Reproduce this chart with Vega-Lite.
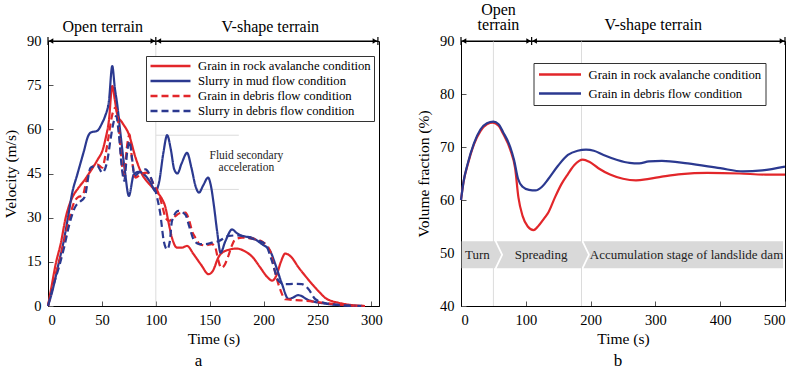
{
  "$schema": "https://vega.github.io/schema/vega-lite/v6.json",
  "background": "white",
  "padding": {"left": 3, "top": 0, "right": 0, "bottom": 0},
  "spacing": 82,
  "bounds": "flush",
  "config": {
    "font": "Liberation Serif",
    "view": {"stroke": "black", "strokeWidth": 1},
    "axis": {
      "grid": false,
      "domainColor": "black",
      "tickColor": "#555",
      "labelColor": "black",
      "titleColor": "black",
      "labelFont": "Liberation Serif",
      "titleFont": "Liberation Serif",
      "labelFontSize": 14.5,
      "titleFontSize": 15.5,
      "titleFontWeight": "normal",
      "tickSize": -5,
      "labelPadding": 12
    },
    "axisY": {"titlePadding": 8},
    "axisX": {"titlePadding": 5},
    "title": {"font": "Liberation Serif", "fontSize": 17, "fontWeight": "normal", "color": "black"},
    "text": {"font": "Liberation Serif"},
    "legend": {"labelFont": "Liberation Serif"}
  },
  "resolve": {
    "scale": {"color": "independent", "strokeDash": "independent"},
    "legend": {"color": "independent", "strokeDash": "independent"}
  },
  "datasets": {
    "velocity": [
      {"s": "Grain in rock avalanche condition", "t": 0, "v": 0},
      {"s": "Grain in rock avalanche condition", "t": 3, "v": 6},
      {"s": "Grain in rock avalanche condition", "t": 7, "v": 14},
      {"s": "Grain in rock avalanche condition", "t": 12, "v": 21.5},
      {"s": "Grain in rock avalanche condition", "t": 16.4, "v": 30},
      {"s": "Grain in rock avalanche condition", "t": 22.5, "v": 36.8},
      {"s": "Grain in rock avalanche condition", "t": 28, "v": 40},
      {"s": "Grain in rock avalanche condition", "t": 33.3, "v": 42.5},
      {"s": "Grain in rock avalanche condition", "t": 38, "v": 45},
      {"s": "Grain in rock avalanche condition", "t": 42.6, "v": 47.6},
      {"s": "Grain in rock avalanche condition", "t": 46.5, "v": 50},
      {"s": "Grain in rock avalanche condition", "t": 50.3, "v": 52.6},
      {"s": "Grain in rock avalanche condition", "t": 53.5, "v": 57},
      {"s": "Grain in rock avalanche condition", "t": 56.5, "v": 63},
      {"s": "Grain in rock avalanche condition", "t": 59.6, "v": 74.7},
      {"s": "Grain in rock avalanche condition", "t": 62, "v": 70},
      {"s": "Grain in rock avalanche condition", "t": 64.2, "v": 65.1},
      {"s": "Grain in rock avalanche condition", "t": 68.8, "v": 62.3},
      {"s": "Grain in rock avalanche condition", "t": 75, "v": 58.3},
      {"s": "Grain in rock avalanche condition", "t": 81.2, "v": 50.4},
      {"s": "Grain in rock avalanche condition", "t": 87.3, "v": 44.7},
      {"s": "Grain in rock avalanche condition", "t": 93, "v": 41.8},
      {"s": "Grain in rock avalanche condition", "t": 97, "v": 40.2},
      {"s": "Grain in rock avalanche condition", "t": 100, "v": 39},
      {"s": "Grain in rock avalanche condition", "t": 105, "v": 36.8},
      {"s": "Grain in rock avalanche condition", "t": 109, "v": 33.4},
      {"s": "Grain in rock avalanche condition", "t": 112, "v": 28},
      {"s": "Grain in rock avalanche condition", "t": 115, "v": 23.2},
      {"s": "Grain in rock avalanche condition", "t": 119.7, "v": 19.8},
      {"s": "Grain in rock avalanche condition", "t": 124, "v": 19.8},
      {"s": "Grain in rock avalanche condition", "t": 129, "v": 20.4},
      {"s": "Grain in rock avalanche condition", "t": 135, "v": 17.6},
      {"s": "Grain in rock avalanche condition", "t": 142, "v": 14},
      {"s": "Grain in rock avalanche condition", "t": 149, "v": 10.8},
      {"s": "Grain in rock avalanche condition", "t": 153, "v": 12},
      {"s": "Grain in rock avalanche condition", "t": 158, "v": 16.5},
      {"s": "Grain in rock avalanche condition", "t": 165, "v": 18.8},
      {"s": "Grain in rock avalanche condition", "t": 175, "v": 19.5},
      {"s": "Grain in rock avalanche condition", "t": 183, "v": 18.5},
      {"s": "Grain in rock avalanche condition", "t": 190, "v": 16.5},
      {"s": "Grain in rock avalanche condition", "t": 197, "v": 13},
      {"s": "Grain in rock avalanche condition", "t": 203, "v": 10},
      {"s": "Grain in rock avalanche condition", "t": 208, "v": 8.6},
      {"s": "Grain in rock avalanche condition", "t": 212, "v": 10.5},
      {"s": "Grain in rock avalanche condition", "t": 216, "v": 15},
      {"s": "Grain in rock avalanche condition", "t": 220, "v": 17.8},
      {"s": "Grain in rock avalanche condition", "t": 226, "v": 16.5},
      {"s": "Grain in rock avalanche condition", "t": 232, "v": 13.3},
      {"s": "Grain in rock avalanche condition", "t": 238, "v": 10.5},
      {"s": "Grain in rock avalanche condition", "t": 244.8, "v": 7.5},
      {"s": "Grain in rock avalanche condition", "t": 251, "v": 5},
      {"s": "Grain in rock avalanche condition", "t": 257, "v": 2.8},
      {"s": "Grain in rock avalanche condition", "t": 263, "v": 1.7},
      {"s": "Grain in rock avalanche condition", "t": 269.4, "v": 1.1},
      {"s": "Grain in rock avalanche condition", "t": 280, "v": 0.4},
      {"s": "Grain in rock avalanche condition", "t": 294, "v": 0},

      {"s": "Slurry in mud flow condition", "t": 0, "v": 0},
      {"s": "Slurry in mud flow condition", "t": 4, "v": 5},
      {"s": "Slurry in mud flow condition", "t": 10.2, "v": 15},
      {"s": "Slurry in mud flow condition", "t": 14, "v": 21},
      {"s": "Slurry in mud flow condition", "t": 18.5, "v": 30},
      {"s": "Slurry in mud flow condition", "t": 22.5, "v": 38.5},
      {"s": "Slurry in mud flow condition", "t": 27.2, "v": 44.7},
      {"s": "Slurry in mud flow condition", "t": 33.3, "v": 52.6},
      {"s": "Slurry in mud flow condition", "t": 37, "v": 57.5},
      {"s": "Slurry in mud flow condition", "t": 39.5, "v": 58.9},
      {"s": "Slurry in mud flow condition", "t": 45.7, "v": 59.5},
      {"s": "Slurry in mud flow condition", "t": 50, "v": 62},
      {"s": "Slurry in mud flow condition", "t": 53, "v": 64.5},
      {"s": "Slurry in mud flow condition", "t": 56.5, "v": 69.6},
      {"s": "Slurry in mud flow condition", "t": 59.6, "v": 81.5},
      {"s": "Slurry in mud flow condition", "t": 62, "v": 74},
      {"s": "Slurry in mud flow condition", "t": 64.2, "v": 68.5},
      {"s": "Slurry in mud flow condition", "t": 67.3, "v": 58.3},
      {"s": "Slurry in mud flow condition", "t": 71.3, "v": 45.9},
      {"s": "Slurry in mud flow condition", "t": 75, "v": 37.4},
      {"s": "Slurry in mud flow condition", "t": 79.6, "v": 44.7},
      {"s": "Slurry in mud flow condition", "t": 84.3, "v": 45.6},
      {"s": "Slurry in mud flow condition", "t": 90.4, "v": 44.2},
      {"s": "Slurry in mud flow condition", "t": 95, "v": 42},
      {"s": "Slurry in mud flow condition", "t": 99.7, "v": 39},
      {"s": "Slurry in mud flow condition", "t": 103, "v": 42},
      {"s": "Slurry in mud flow condition", "t": 107, "v": 52},
      {"s": "Slurry in mud flow condition", "t": 110.5, "v": 58},
      {"s": "Slurry in mud flow condition", "t": 114, "v": 53},
      {"s": "Slurry in mud flow condition", "t": 117, "v": 46.5},
      {"s": "Slurry in mud flow condition", "t": 120, "v": 45},
      {"s": "Slurry in mud flow condition", "t": 124, "v": 48.5},
      {"s": "Slurry in mud flow condition", "t": 129, "v": 52},
      {"s": "Slurry in mud flow condition", "t": 133, "v": 47},
      {"s": "Slurry in mud flow condition", "t": 137, "v": 40.5},
      {"s": "Slurry in mud flow condition", "t": 140, "v": 38.5},
      {"s": "Slurry in mud flow condition", "t": 144, "v": 41},
      {"s": "Slurry in mud flow condition", "t": 148.5, "v": 43.6},
      {"s": "Slurry in mud flow condition", "t": 151, "v": 41},
      {"s": "Slurry in mud flow condition", "t": 153.7, "v": 34.6},
      {"s": "Slurry in mud flow condition", "t": 157, "v": 25},
      {"s": "Slurry in mud flow condition", "t": 160, "v": 18.1},
      {"s": "Slurry in mud flow condition", "t": 164.5, "v": 22},
      {"s": "Slurry in mud flow condition", "t": 170.7, "v": 26},
      {"s": "Slurry in mud flow condition", "t": 175, "v": 24.8},
      {"s": "Slurry in mud flow condition", "t": 180, "v": 23.8},
      {"s": "Slurry in mud flow condition", "t": 189, "v": 23.2},
      {"s": "Slurry in mud flow condition", "t": 198.5, "v": 21},
      {"s": "Slurry in mud flow condition", "t": 206, "v": 18.7},
      {"s": "Slurry in mud flow condition", "t": 210.8, "v": 14.2},
      {"s": "Slurry in mud flow condition", "t": 217, "v": 7.5},
      {"s": "Slurry in mud flow condition", "t": 223, "v": 2.4},
      {"s": "Slurry in mud flow condition", "t": 227, "v": 2.8},
      {"s": "Slurry in mud flow condition", "t": 232, "v": 3.7},
      {"s": "Slurry in mud flow condition", "t": 241.7, "v": 2},
      {"s": "Slurry in mud flow condition", "t": 257, "v": 0.8},
      {"s": "Slurry in mud flow condition", "t": 275.6, "v": 0.2},
      {"s": "Slurry in mud flow condition", "t": 292, "v": 0},

      {"s": "Grain in debris flow condition", "t": 0, "v": 0},
      {"s": "Grain in debris flow condition", "t": 5, "v": 8},
      {"s": "Grain in debris flow condition", "t": 10, "v": 14.5},
      {"s": "Grain in debris flow condition", "t": 15, "v": 22},
      {"s": "Grain in debris flow condition", "t": 20, "v": 30},
      {"s": "Grain in debris flow condition", "t": 24, "v": 35},
      {"s": "Grain in debris flow condition", "t": 28, "v": 37},
      {"s": "Grain in debris flow condition", "t": 32, "v": 37.5},
      {"s": "Grain in debris flow condition", "t": 36.4, "v": 43.6},
      {"s": "Grain in debris flow condition", "t": 42.6, "v": 47.6},
      {"s": "Grain in debris flow condition", "t": 46, "v": 48},
      {"s": "Grain in debris flow condition", "t": 50.3, "v": 47},
      {"s": "Grain in debris flow condition", "t": 53.4, "v": 51.5},
      {"s": "Grain in debris flow condition", "t": 56.5, "v": 58.3},
      {"s": "Grain in debris flow condition", "t": 59.6, "v": 65},
      {"s": "Grain in debris flow condition", "t": 62.7, "v": 67.4},
      {"s": "Grain in debris flow condition", "t": 65.7, "v": 60.6},
      {"s": "Grain in debris flow condition", "t": 68.2, "v": 49.3},
      {"s": "Grain in debris flow condition", "t": 70.4, "v": 44.2},
      {"s": "Grain in debris flow condition", "t": 73.5, "v": 54.9},
      {"s": "Grain in debris flow condition", "t": 75.6, "v": 58.3},
      {"s": "Grain in debris flow condition", "t": 78, "v": 49.3},
      {"s": "Grain in debris flow condition", "t": 81.2, "v": 43.6},
      {"s": "Grain in debris flow condition", "t": 85.8, "v": 44.7},
      {"s": "Grain in debris flow condition", "t": 92, "v": 45.3},
      {"s": "Grain in debris flow condition", "t": 98, "v": 41.3},
      {"s": "Grain in debris flow condition", "t": 102.8, "v": 38},
      {"s": "Grain in debris flow condition", "t": 106, "v": 34},
      {"s": "Grain in debris flow condition", "t": 109, "v": 30},
      {"s": "Grain in debris flow condition", "t": 112, "v": 28.9},
      {"s": "Grain in debris flow condition", "t": 118, "v": 30.5},
      {"s": "Grain in debris flow condition", "t": 122, "v": 31.5},
      {"s": "Grain in debris flow condition", "t": 127.5, "v": 31.7},
      {"s": "Grain in debris flow condition", "t": 131, "v": 29},
      {"s": "Grain in debris flow condition", "t": 134, "v": 25},
      {"s": "Grain in debris flow condition", "t": 136.7, "v": 23.2},
      {"s": "Grain in debris flow condition", "t": 141, "v": 20.9},
      {"s": "Grain in debris flow condition", "t": 146, "v": 20.6},
      {"s": "Grain in debris flow condition", "t": 152, "v": 21},
      {"s": "Grain in debris flow condition", "t": 155, "v": 20},
      {"s": "Grain in debris flow condition", "t": 158, "v": 15.5},
      {"s": "Grain in debris flow condition", "t": 160.5, "v": 13},
      {"s": "Grain in debris flow condition", "t": 163, "v": 13.5},
      {"s": "Grain in debris flow condition", "t": 166.7, "v": 16.4},
      {"s": "Grain in debris flow condition", "t": 170, "v": 20},
      {"s": "Grain in debris flow condition", "t": 173.8, "v": 22.7},
      {"s": "Grain in debris flow condition", "t": 180, "v": 23.2},
      {"s": "Grain in debris flow condition", "t": 192, "v": 22.7},
      {"s": "Grain in debris flow condition", "t": 200, "v": 21.5},
      {"s": "Grain in debris flow condition", "t": 206, "v": 18.7},
      {"s": "Grain in debris flow condition", "t": 209, "v": 14},
      {"s": "Grain in debris flow condition", "t": 212, "v": 9.6},
      {"s": "Grain in debris flow condition", "t": 216, "v": 5},
      {"s": "Grain in debris flow condition", "t": 220, "v": 2.3},
      {"s": "Grain in debris flow condition", "t": 230, "v": 2},
      {"s": "Grain in debris flow condition", "t": 238.6, "v": 1.8},
      {"s": "Grain in debris flow condition", "t": 257, "v": 1},
      {"s": "Grain in debris flow condition", "t": 278.7, "v": 0.2},
      {"s": "Grain in debris flow condition", "t": 292, "v": 0},

      {"s": "Slurry in debris flow condition", "t": 0, "v": 0},
      {"s": "Slurry in debris flow condition", "t": 5, "v": 7},
      {"s": "Slurry in debris flow condition", "t": 10, "v": 13},
      {"s": "Slurry in debris flow condition", "t": 15, "v": 20},
      {"s": "Slurry in debris flow condition", "t": 20, "v": 28},
      {"s": "Slurry in debris flow condition", "t": 25, "v": 33.5},
      {"s": "Slurry in debris flow condition", "t": 30, "v": 35.5},
      {"s": "Slurry in debris flow condition", "t": 34, "v": 37},
      {"s": "Slurry in debris flow condition", "t": 39.5, "v": 47},
      {"s": "Slurry in debris flow condition", "t": 45.7, "v": 47.6},
      {"s": "Slurry in debris flow condition", "t": 50.3, "v": 45.3},
      {"s": "Slurry in debris flow condition", "t": 55, "v": 49.3},
      {"s": "Slurry in debris flow condition", "t": 58, "v": 56.6},
      {"s": "Slurry in debris flow condition", "t": 61.1, "v": 62.8},
      {"s": "Slurry in debris flow condition", "t": 63.3, "v": 64.5},
      {"s": "Slurry in debris flow condition", "t": 65.7, "v": 58.3},
      {"s": "Slurry in debris flow condition", "t": 68.8, "v": 45.9},
      {"s": "Slurry in debris flow condition", "t": 70.7, "v": 42.5},
      {"s": "Slurry in debris flow condition", "t": 73.5, "v": 52.6},
      {"s": "Slurry in debris flow condition", "t": 75.6, "v": 56},
      {"s": "Slurry in debris flow condition", "t": 78, "v": 50},
      {"s": "Slurry in debris flow condition", "t": 80.2, "v": 44.2},
      {"s": "Slurry in debris flow condition", "t": 84.3, "v": 45.3},
      {"s": "Slurry in debris flow condition", "t": 90.4, "v": 46.4},
      {"s": "Slurry in debris flow condition", "t": 96.6, "v": 42.5},
      {"s": "Slurry in debris flow condition", "t": 101.2, "v": 36.8},
      {"s": "Slurry in debris flow condition", "t": 104, "v": 31.7},
      {"s": "Slurry in debris flow condition", "t": 107.4, "v": 22},
      {"s": "Slurry in debris flow condition", "t": 110.5, "v": 19.2},
      {"s": "Slurry in debris flow condition", "t": 113, "v": 22},
      {"s": "Slurry in debris flow condition", "t": 115, "v": 28.9},
      {"s": "Slurry in debris flow condition", "t": 121, "v": 32.3},
      {"s": "Slurry in debris flow condition", "t": 127.5, "v": 31},
      {"s": "Slurry in debris flow condition", "t": 131, "v": 27},
      {"s": "Slurry in debris flow condition", "t": 135, "v": 22.6},
      {"s": "Slurry in debris flow condition", "t": 140, "v": 21},
      {"s": "Slurry in debris flow condition", "t": 146, "v": 21},
      {"s": "Slurry in debris flow condition", "t": 152, "v": 21.5},
      {"s": "Slurry in debris flow condition", "t": 158, "v": 22},
      {"s": "Slurry in debris flow condition", "t": 167.6, "v": 23.8},
      {"s": "Slurry in debris flow condition", "t": 176, "v": 24},
      {"s": "Slurry in debris flow condition", "t": 186, "v": 23.2},
      {"s": "Slurry in debris flow condition", "t": 194, "v": 22.3},
      {"s": "Slurry in debris flow condition", "t": 201.6, "v": 21},
      {"s": "Slurry in debris flow condition", "t": 207.7, "v": 15.3},
      {"s": "Slurry in debris flow condition", "t": 213.9, "v": 8.5},
      {"s": "Slurry in debris flow condition", "t": 220, "v": 7.4},
      {"s": "Slurry in debris flow condition", "t": 228, "v": 7.5},
      {"s": "Slurry in debris flow condition", "t": 235.5, "v": 7.4},
      {"s": "Slurry in debris flow condition", "t": 241.7, "v": 5.7},
      {"s": "Slurry in debris flow condition", "t": 248, "v": 2.3},
      {"s": "Slurry in debris flow condition", "t": 260, "v": 0.8},
      {"s": "Slurry in debris flow condition", "t": 275, "v": 0.2},
      {"s": "Slurry in debris flow condition", "t": 285, "v": 0}
    ],
    "volume": [
      {"s": "Grain in rock avalanche condition", "t": 0, "v": 60},
      {"s": "Grain in rock avalanche condition", "t": 4, "v": 63.5},
      {"s": "Grain in rock avalanche condition", "t": 10, "v": 66.5},
      {"s": "Grain in rock avalanche condition", "t": 20, "v": 70.5},
      {"s": "Grain in rock avalanche condition", "t": 30, "v": 73},
      {"s": "Grain in rock avalanche condition", "t": 40, "v": 74.3},
      {"s": "Grain in rock avalanche condition", "t": 49, "v": 74.6},
      {"s": "Grain in rock avalanche condition", "t": 58, "v": 74},
      {"s": "Grain in rock avalanche condition", "t": 65, "v": 72.5},
      {"s": "Grain in rock avalanche condition", "t": 76, "v": 69.5},
      {"s": "Grain in rock avalanche condition", "t": 83.5, "v": 66},
      {"s": "Grain in rock avalanche condition", "t": 88.6, "v": 60.5},
      {"s": "Grain in rock avalanche condition", "t": 95, "v": 57},
      {"s": "Grain in rock avalanche condition", "t": 103, "v": 55},
      {"s": "Grain in rock avalanche condition", "t": 112, "v": 54.3},
      {"s": "Grain in rock avalanche condition", "t": 120, "v": 55.2},
      {"s": "Grain in rock avalanche condition", "t": 130, "v": 56.8},
      {"s": "Grain in rock avalanche condition", "t": 135, "v": 57.7},
      {"s": "Grain in rock avalanche condition", "t": 145, "v": 60.5},
      {"s": "Grain in rock avalanche condition", "t": 155, "v": 63},
      {"s": "Grain in rock avalanche condition", "t": 165, "v": 64.9},
      {"s": "Grain in rock avalanche condition", "t": 175, "v": 66.6},
      {"s": "Grain in rock avalanche condition", "t": 188, "v": 67.6},
      {"s": "Grain in rock avalanche condition", "t": 198, "v": 67.2},
      {"s": "Grain in rock avalanche condition", "t": 212, "v": 66},
      {"s": "Grain in rock avalanche condition", "t": 230, "v": 64.8},
      {"s": "Grain in rock avalanche condition", "t": 250, "v": 64},
      {"s": "Grain in rock avalanche condition", "t": 270, "v": 63.7},
      {"s": "Grain in rock avalanche condition", "t": 290, "v": 64},
      {"s": "Grain in rock avalanche condition", "t": 310, "v": 64.4},
      {"s": "Grain in rock avalanche condition", "t": 340, "v": 64.9},
      {"s": "Grain in rock avalanche condition", "t": 380, "v": 65.1},
      {"s": "Grain in rock avalanche condition", "t": 430, "v": 65},
      {"s": "Grain in rock avalanche condition", "t": 470, "v": 64.8},
      {"s": "Grain in rock avalanche condition", "t": 500, "v": 64.8},

      {"s": "Grain in debris flow condition", "t": 0, "v": 60},
      {"s": "Grain in debris flow condition", "t": 4, "v": 63.5},
      {"s": "Grain in debris flow condition", "t": 10, "v": 66.7},
      {"s": "Grain in debris flow condition", "t": 20, "v": 70.7},
      {"s": "Grain in debris flow condition", "t": 30, "v": 73.3},
      {"s": "Grain in debris flow condition", "t": 40, "v": 74.5},
      {"s": "Grain in debris flow condition", "t": 50, "v": 74.8},
      {"s": "Grain in debris flow condition", "t": 58, "v": 74.3},
      {"s": "Grain in debris flow condition", "t": 65, "v": 72.8},
      {"s": "Grain in debris flow condition", "t": 76, "v": 70},
      {"s": "Grain in debris flow condition", "t": 82, "v": 67.5},
      {"s": "Grain in debris flow condition", "t": 88, "v": 64},
      {"s": "Grain in debris flow condition", "t": 95, "v": 62.5},
      {"s": "Grain in debris flow condition", "t": 105, "v": 61.9},
      {"s": "Grain in debris flow condition", "t": 115, "v": 61.8},
      {"s": "Grain in debris flow condition", "t": 125, "v": 62.5},
      {"s": "Grain in debris flow condition", "t": 135, "v": 64},
      {"s": "Grain in debris flow condition", "t": 150, "v": 66.5},
      {"s": "Grain in debris flow condition", "t": 165, "v": 68.5},
      {"s": "Grain in debris flow condition", "t": 180, "v": 69.3},
      {"s": "Grain in debris flow condition", "t": 193, "v": 69.5},
      {"s": "Grain in debris flow condition", "t": 205, "v": 69.3},
      {"s": "Grain in debris flow condition", "t": 220, "v": 68.5},
      {"s": "Grain in debris flow condition", "t": 240, "v": 67.6},
      {"s": "Grain in debris flow condition", "t": 260, "v": 67},
      {"s": "Grain in debris flow condition", "t": 275, "v": 66.9},
      {"s": "Grain in debris flow condition", "t": 290, "v": 67.3},
      {"s": "Grain in debris flow condition", "t": 310, "v": 67.4},
      {"s": "Grain in debris flow condition", "t": 350, "v": 66.9},
      {"s": "Grain in debris flow condition", "t": 400, "v": 66},
      {"s": "Grain in debris flow condition", "t": 435, "v": 65.4},
      {"s": "Grain in debris flow condition", "t": 465, "v": 65.6},
      {"s": "Grain in debris flow condition", "t": 500, "v": 66.3}
    ],
    "stages": [
      {"seg": "Turn", "i": 0, "t": 1, "v": 52.2},
      {"seg": "Turn", "i": 1, "t": 52, "v": 52.2},
      {"seg": "Turn", "i": 2, "t": 62, "v": 49.65},
      {"seg": "Turn", "i": 3, "t": 52, "v": 47.1},
      {"seg": "Turn", "i": 4, "t": 1, "v": 47.1},
      {"seg": "Spreading", "i": 0, "t": 55, "v": 52.2},
      {"seg": "Spreading", "i": 1, "t": 186, "v": 52.2},
      {"seg": "Spreading", "i": 2, "t": 196, "v": 49.65},
      {"seg": "Spreading", "i": 3, "t": 186, "v": 47.1},
      {"seg": "Spreading", "i": 4, "t": 55, "v": 47.1},
      {"seg": "Spreading", "i": 5, "t": 65, "v": 49.65},
      {"seg": "Accumulation", "i": 0, "t": 189, "v": 52.2},
      {"seg": "Accumulation", "i": 1, "t": 497, "v": 52.2},
      {"seg": "Accumulation", "i": 2, "t": 497, "v": 47.1},
      {"seg": "Accumulation", "i": 3, "t": 189, "v": 47.1},
      {"seg": "Accumulation", "i": 4, "t": 199, "v": 49.65}
    ],
    "stageLabels": [
      {"t": 25.4, "v": 49.65, "label": "Turn"},
      {"t": 123.5, "v": 49.65, "label": "Spreading"},
      {"t": 348, "v": 49.65, "label": "Accumulation stage of landslide dam"}
    ]
  },
  "hconcat": [
    {
      "width": 331,
      "height": 265,
      "title": {"text": "a", "orient": "bottom", "offset": 6, "dx": -15},
      "layer": [
        {
          "data": {"values": [{"t": 100, "v": 0, "v2": 90}]},
          "mark": {"type": "rule", "color": "#dcdcdc", "strokeWidth": 1},
          "encoding": {
            "x": {"field": "t", "type": "quantitative", "scale": {"domain": [0, 307], "nice": false}},
            "y": {"field": "v", "type": "quantitative", "scale": {"domain": [0, 90], "nice": false}},
            "y2": {"field": "v2"}
          }
        },
        {
          "data": {"values": [{"t": 100, "t2": 177, "v": 58}, {"t": 100, "t2": 177, "v": 39.6}]},
          "mark": {"type": "rule", "color": "#dcdcdc", "strokeWidth": 1},
          "encoding": {
            "x": {"field": "t", "type": "quantitative", "scale": {"domain": [0, 307], "nice": false}},
            "x2": {"field": "t2"},
            "y": {"field": "v", "type": "quantitative", "scale": {"domain": [0, 90], "nice": false}}
          }
        },
        {
          "data": {"name": "velocity"},
          "mark": {"type": "line", "interpolate": "monotone", "strokeWidth": 2.2},
          "encoding": {
            "x": {"field": "t", "type": "quantitative", "scale": {"domain": [0, 307], "nice": false},
                  "axis": {"title": "Time (s)", "values": [0, 50, 100, 150, 200, 250, 300], "labelFont": "Liberation Serif", "titleFont": "Liberation Serif"}},
            "y": {"field": "v", "type": "quantitative", "scale": {"domain": [0, 90], "nice": false},
                  "axis": {"title": "Velocity (m/s)", "values": [0, 15, 30, 45, 60, 75, 90], "labelFont": "Liberation Serif", "titleFont": "Liberation Serif"}},
            "color": {
              "field": "s", "type": "nominal",
              "scale": {
                "domain": ["Grain in rock avalanche condition", "Slurry in mud flow condition", "Grain in debris flow condition", "Slurry in debris flow condition"],
                "range": ["#e2262a", "#2b3990", "#e2262a", "#2b3990"]
              },
              "legend": {"orient": "none", "legendX": 98, "legendY": 15, "title": null, "symbolType": "stroke", "symbolSize": 1600, "symbolStrokeWidth": 2.5, "labelFontSize": 12.7, "labelFont": "Liberation Serif", "labelColor": "black", "labelLimit": 0, "labelOffset": 6, "padding": 3, "strokeColor": "#333", "fillColor": "white", "clipHeight": 14, "rowPadding": 1}
            },
            "strokeDash": {
              "field": "s", "type": "nominal",
              "scale": {
                "domain": ["Grain in rock avalanche condition", "Slurry in mud flow condition", "Grain in debris flow condition", "Slurry in debris flow condition"],
                "range": [[1, 0], [1, 0], [7, 4], [7, 4]]
              },
              "legend": {"orient": "none", "legendX": 98, "legendY": 15, "title": null, "symbolType": "stroke", "symbolSize": 1600, "symbolStrokeWidth": 2.5, "labelFontSize": 12.7, "labelFont": "Liberation Serif", "labelColor": "black", "labelLimit": 0, "labelOffset": 6, "padding": 3, "strokeColor": "#333", "fillColor": "white", "clipHeight": 14, "rowPadding": 1}
            }
          }
        },
        {
          "data": {"values": [{"t": 184, "v": 51, "label": "Fluid secondary"}, {"t": 184, "v": 46.9, "label": "acceleration"}]},
          "mark": {"type": "text", "fontSize": 11.5, "font": "Liberation Serif", "color": "#222", "baseline": "middle", "align": "center"},
          "encoding": {
            "x": {"field": "t", "type": "quantitative", "scale": {"domain": [0, 307], "nice": false}},
            "y": {"field": "v", "type": "quantitative", "scale": {"domain": [0, 90], "nice": false}},
            "text": {"field": "label"}
          }
        },
        {
          "data": {"values": [{"t": 0, "t2": 306, "v": 90}]},
          "mark": {"type": "rule", "color": "black", "strokeWidth": 1.2},
          "encoding": {
            "x": {"field": "t", "type": "quantitative", "scale": {"domain": [0, 307], "nice": false}},
            "x2": {"field": "t2"},
            "y": {"field": "v", "type": "quantitative", "scale": {"domain": [0, 90], "nice": false}}
          }
        },
        {
          "data": {"values": [{"t": 0, "v": 88.6, "v2": 91.4}, {"t": 100, "v": 88.6, "v2": 91.4}, {"t": 306, "v": 88.6, "v2": 91.4}]},
          "mark": {"type": "rule", "color": "black", "strokeWidth": 1.2},
          "encoding": {
            "x": {"field": "t", "type": "quantitative", "scale": {"domain": [0, 307], "nice": false}},
            "y": {"field": "v", "type": "quantitative", "scale": {"domain": [0, 90], "nice": false}},
            "y2": {"field": "v2"}
          }
        },
        {
          "data": {"values": [{"t": 0, "v": 90}, {"t": 100, "v": 90}]},
          "mark": {"type": "point", "shape": "triangle-left", "filled": true, "color": "black", "size": 28, "opacity": 1, "xOffset": 3},
          "encoding": {
            "x": {"field": "t", "type": "quantitative", "scale": {"domain": [0, 307], "nice": false}},
            "y": {"field": "v", "type": "quantitative", "scale": {"domain": [0, 90], "nice": false}}
          }
        },
        {
          "data": {"values": [{"t": 100, "v": 90}, {"t": 306, "v": 90}]},
          "mark": {"type": "point", "shape": "triangle-right", "filled": true, "color": "black", "size": 28, "opacity": 1, "xOffset": -3},
          "encoding": {
            "x": {"field": "t", "type": "quantitative", "scale": {"domain": [0, 307], "nice": false}},
            "y": {"field": "v", "type": "quantitative", "scale": {"domain": [0, 90], "nice": false}}
          }
        },
        {
          "data": {"values": [{"t": 50.8, "v": 93.2, "label": "Open terrain"}, {"t": 206.2, "v": 93.2, "label": "V-shape terrain"}]},
          "mark": {"type": "text", "fontSize": 16, "font": "Liberation Serif", "color": "black", "baseline": "alphabetic", "align": "center"},
          "encoding": {
            "x": {"field": "t", "type": "quantitative", "scale": {"domain": [0, 307], "nice": false}},
            "y": {"field": "v", "type": "quantitative", "scale": {"domain": [0, 90], "nice": false}},
            "text": {"field": "label"}
          }
        }
      ]
    },
    {
      "width": 324,
      "height": 265,
      "title": {"text": "b", "orient": "bottom", "offset": 6, "dx": -5},
      "layer": [
        {
          "data": {"values": [{"t": 50, "v": 40, "v2": 90}, {"t": 186, "v": 40, "v2": 90}]},
          "mark": {"type": "rule", "color": "#dcdcdc", "strokeWidth": 1},
          "encoding": {
            "x": {"field": "t", "type": "quantitative", "scale": {"domain": [0, 500], "nice": false}},
            "y": {"field": "v", "type": "quantitative", "scale": {"domain": [40, 90], "nice": false}},
            "y2": {"field": "v2"}
          }
        },
        {
          "data": {"name": "stages"},
          "mark": {"type": "line", "fill": "#d9d9d9", "stroke": null, "strokeWidth": 0, "interpolate": "linear-closed"},
          "encoding": {
            "x": {"field": "t", "type": "quantitative", "scale": {"domain": [0, 500], "nice": false}},
            "y": {"field": "v", "type": "quantitative", "scale": {"domain": [40, 90], "nice": false}},
            "detail": {"field": "seg", "type": "nominal"},
            "order": {"field": "i", "type": "quantitative"}
          }
        },
        {
          "data": {"name": "stageLabels"},
          "mark": {"type": "text", "fontSize": 13, "font": "Liberation Serif", "color": "#222", "baseline": "middle", "align": "center"},
          "encoding": {
            "x": {"field": "t", "type": "quantitative", "scale": {"domain": [0, 500], "nice": false}},
            "y": {"field": "v", "type": "quantitative", "scale": {"domain": [40, 90], "nice": false}},
            "text": {"field": "label"}
          }
        },
        {
          "data": {"name": "volume"},
          "mark": {"type": "line", "interpolate": "monotone", "strokeWidth": 2.2},
          "encoding": {
            "x": {"field": "t", "type": "quantitative", "scale": {"domain": [0, 500], "nice": false},
                  "axis": {"title": "Time (s)", "values": [0, 100, 200, 300, 400, 500], "labelFont": "Liberation Serif", "titleFont": "Liberation Serif"}},
            "y": {"field": "v", "type": "quantitative", "scale": {"domain": [40, 90], "nice": false},
                  "axis": {"title": "Volume fraction (%)", "values": [40, 50, 60, 70, 80, 90], "labelFont": "Liberation Serif", "titleFont": "Liberation Serif"}},
            "color": {
              "field": "s", "type": "nominal",
              "scale": {
                "domain": ["Grain in rock avalanche condition", "Grain in debris flow condition"],
                "range": ["#e2262a", "#2b3990"]
              },
              "legend": {"orient": "none", "legendX": 72.5, "legendY": 22, "title": null, "symbolType": "stroke", "symbolSize": 1764, "symbolStrokeWidth": 2.5, "labelFontSize": 12.7, "labelFont": "Liberation Serif", "labelColor": "black", "labelLimit": 0, "labelOffset": 6, "padding": 4, "strokeColor": "#333", "fillColor": "white", "clipHeight": 15, "rowPadding": 4}
            }
          }
        },
        {
          "data": {"values": [{"t": 0, "t2": 500, "v": 90}]},
          "mark": {"type": "rule", "color": "black", "strokeWidth": 1.2},
          "encoding": {
            "x": {"field": "t", "type": "quantitative", "scale": {"domain": [0, 500], "nice": false}},
            "x2": {"field": "t2"},
            "y": {"field": "v", "type": "quantitative", "scale": {"domain": [40, 90], "nice": false}}
          }
        },
        {
          "data": {"values": [{"t": 0, "v": 89.25, "v2": 90.75}, {"t": 109, "v": 89.25, "v2": 90.75}, {"t": 500, "v": 89.25, "v2": 90.75}]},
          "mark": {"type": "rule", "color": "black", "strokeWidth": 1.2},
          "encoding": {
            "x": {"field": "t", "type": "quantitative", "scale": {"domain": [0, 500], "nice": false}},
            "y": {"field": "v", "type": "quantitative", "scale": {"domain": [40, 90], "nice": false}},
            "y2": {"field": "v2"}
          }
        },
        {
          "data": {"values": [{"t": 0, "v": 90}, {"t": 109, "v": 90}]},
          "mark": {"type": "point", "shape": "triangle-left", "filled": true, "color": "black", "size": 28, "opacity": 1, "xOffset": 3},
          "encoding": {
            "x": {"field": "t", "type": "quantitative", "scale": {"domain": [0, 500], "nice": false}},
            "y": {"field": "v", "type": "quantitative", "scale": {"domain": [40, 90], "nice": false}}
          }
        },
        {
          "data": {"values": [{"t": 109, "v": 90}, {"t": 500, "v": 90}]},
          "mark": {"type": "point", "shape": "triangle-right", "filled": true, "color": "black", "size": 28, "opacity": 1, "xOffset": -3},
          "encoding": {
            "x": {"field": "t", "type": "quantitative", "scale": {"domain": [0, 500], "nice": false}},
            "y": {"field": "v", "type": "quantitative", "scale": {"domain": [40, 90], "nice": false}}
          }
        },
        {
          "data": {"values": [{"t": 57.8, "v": 95.0, "label": "Open"}, {"t": 57.8, "v": 92.0, "label": "terrain"}, {"t": 296.6, "v": 92.0, "label": "V-shape terrain"}]},
          "mark": {"type": "text", "fontSize": 16, "font": "Liberation Serif", "color": "black", "baseline": "alphabetic", "align": "center"},
          "encoding": {
            "x": {"field": "t", "type": "quantitative", "scale": {"domain": [0, 500], "nice": false}},
            "y": {"field": "v", "type": "quantitative", "scale": {"domain": [40, 90], "nice": false}},
            "text": {"field": "label"}
          }
        }
      ]
    }
  ]
}
